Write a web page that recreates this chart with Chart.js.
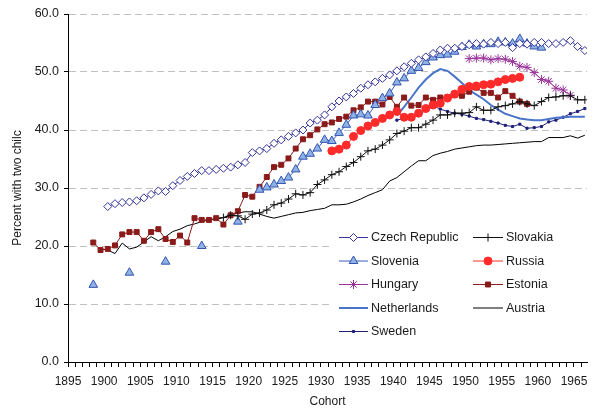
<!DOCTYPE html>
<html>
<head>
<meta charset="utf-8">
<script src="https://cdn.jsdelivr.net/npm/chart.js@4.4.1/dist/chart.umd.min.js"></script>
<style>
  html, body { margin: 0; padding: 0; background: #fff; overflow: hidden; }
  #wrap { width: 593px; height: 411px; }
</style>
</head>
<body>
<div id="wrap"><canvas id="cohortChart" width="593" height="411"></canvas></div>
<script>
// cohort data, one value per birth year (null = no estimate)
const czechStart = 1900;
const czech = [
  26.8, 27.3, 27.5, 27.6, 27.8, 28.3, 28.9, 29.5, 29.4, 30.4,
  31.3, 32.0, 32.5, 33.0, 33.0, 33.2, 33.4, 33.6, 34.0, 34.4,
  36.1, 36.4, 36.8, 37.7, 38.3, 38.9, 39.5, 40.0, 41.2, 41.7,
  42.6, 44.0, 45.0, 45.7, 46.3, 47.2, 47.8, 48.3, 48.9, 49.5,
  50.2, 50.9, 51.5, 52.1, 52.6, 53.2, 53.8, 54.1, 54.1, 54.4,
  54.7, 54.9, 54.8, 55.1, 54.9, 55.1, 54.2, 54.9, 54.8, 55.1,
  55.1, 54.9, 54.9, 55.1, 55.4, 54.4, 53.7
];

const slovakiaStart = 1916;
const slovakia = [
  24.9, 25.3, 25.2, 24.6, 25.5, 25.7, 26.2, 27.1, 27.4, 28.1,
  29.0, 28.8, 29.2, 30.6, 31.4, 32.3, 32.8, 33.7, 34.4, 35.4,
  36.4, 36.7, 37.4, 38.3, 39.4, 39.8, 40.4, 40.4, 41.0, 41.7,
  42.6, 42.6, 42.9, 42.9, 43.0, 44.0, 43.4, 43.4, 44.0, 44.2,
  44.5, 44.9, 44.5, 44.2, 44.9, 45.6, 45.7, 45.9, 45.9, 45.2,
  45.2
];

const sloveniaStart = 1898;
const slovenia = [
  13.3, null, null, null, null, 15.4, null, null, null, null,
  17.3, null, null, null, null, 20.0, null, null, null, null,
  24.2, null, null, 29.7, 30.1, 30.6, 31.2, 31.8, 33.2, 35.4,
  35.9, 36.8, 38.3, 38.1, 39.5, 40.9, 42.5, 42.7, 42.5, 44.3,
  45.5, 46.3, 48.2, 48.9, 50.2, 50.7, 51.7, 52.5, 52.9, 53.0,
  53.5, 54.3, 54.7, 54.4, 54.8, 54.8, 55.2, 55.1, 54.9, 55.7,
  54.9, 54.4, 54.2
];

const russiaStart = 1931;
const russia = [
  36.4, 36.7, 37.4, 38.9, 39.9, 40.7, 41.3, 42.0, 42.6, 43.2,
  42.2, 42.2, 42.9, 43.7, 44.3, 44.6, 45.5, 46.2, 47.0, 47.5,
  47.6, 47.8, 47.9, 48.3, 48.7, 48.9, 49.1
];

const hungaryStart = 1950;
const hungary = [
  52.3, 52.4, 52.4, 52.1, 52.3, 52.2, 51.8, 51.0, 50.8, 49.9,
  48.7, 48.4, 47.2, 46.9, 46.0
];

const estoniaStart = 1898;
const estonia = [
  20.6, 19.3, 19.5, 20.1, 22.0, 22.4, 22.4, 20.9, 22.4, 22.9,
  21.2, 20.7, 21.8, 20.6, 24.8, 24.5, 24.5, 24.8, 23.7, 25.3,
  26.0, 28.8, 28.5, 30.2, 31.9, 33.6, 34.0, 35.1, 36.8, 38.4,
  39.1, 40.1, 41.0, 41.3, 41.9, 42.3, 43.4, 43.9, 44.9, 44.9,
  44.4, 45.7, 44.0, 45.6, 44.2, 44.3, 45.6, 45.2, 45.6, 45.7,
  46.0, 45.9, 46.6, 47.3, 46.4, 46.4, 45.6, 46.7, 45.9, 44.9,
  44.5
];

const netherlandsStart = 1940;
const netherlands = [
  42.5, 44.0, 45.6, 47.3, 48.7, 49.8, 50.5, 50.2, 49.2, 48.1,
  46.9, 46.1, 45.3, 44.3, 43.5, 42.8, 42.4, 42.0, 41.8, 41.7,
  41.7, 41.9, 42.1, 42.2, 42.3, 42.3, 42.3
];

const austriaStart = 1899;
const austria = [
  19.5, 19.3, 18.7, 20.5, 19.5, 19.8, 20.7, 21.6, 20.9, 21.6,
  22.5, 22.9, 23.5, 23.8, 24.2, 24.5, 24.6, 24.9, 25.3, 25.7,
  25.9, 25.9, 25.5, 25.1, 24.8, 25.1, 25.4, 25.7, 25.8, 26.1,
  26.3, 26.5, 27.1, 27.1, 27.2, 27.6, 28.1, 28.7, 29.2, 29.7,
  31.2, 31.8, 32.8, 33.8, 34.7, 34.7, 35.6, 36.0, 36.3, 36.7,
  36.9, 37.1, 37.3, 37.4, 37.4, 37.5, 37.6, 37.7, 37.8, 37.9,
  38.0, 38.0, 38.7, 38.7, 38.7, 39.0, 38.6, 39.1
];

const swedenStart = 1940;
const sweden = [
  41.7, 42.0, 42.3, 42.6, 43.4, 44.2, 43.6, 43.2, 42.9, 42.7,
  42.4, 42.0, 41.8, 41.5, 41.2, 40.8, 40.6, 41.0, 40.3, 40.4,
  40.6, 41.4, 41.7, 42.2, 42.8, 43.2, 43.7
];

const yTicks = [0, 10, 20, 30, 40, 50, 60];

// cohorts are plotted in the middle of their year
function points(start, values) {
  return values.map((v, i) => ({ x: start + i + 0.5, y: v }));
}

const FONT = '"Liberation Sans", Arial, sans-serif';

function series(label, start, values, style) {
  return Object.assign({
    label: label,
    data: points(start, values),
    borderWidth: 1,
    pointBorderWidth: 1,
    spanGaps: false,
    tension: 0
  }, style);
}

const datasets = [
  series("Czech Republic", czechStart, czech, {
    borderColor: "#333399", pointStyle: "rectRot", pointRadius: 4,
    pointBackgroundColor: "#ffffff", pointBorderColor: "#333399"
  }),
  series("Slovakia", slovakiaStart, slovakia, {
    borderColor: "#111111", pointStyle: "cross", pointRadius: 4,
    pointBorderColor: "#111111"
  }),
  series("Slovenia", sloveniaStart, slovenia, {
    borderColor: "#3a5bbf", pointStyle: "triangle", pointRadius: 5,
    pointBackgroundColor: "#8fb2e6", pointBorderColor: "#3355b0"
  }),
  series("Russia", russiaStart, russia, {
    borderColor: "#ff2a2a", pointStyle: "circle", pointRadius: 4,
    pointBackgroundColor: "#ff2a2a", pointBorderColor: "#ff2a2a"
  }),
  series("Hungary", hungaryStart, hungary, {
    borderColor: "#993399", pointStyle: "star", pointRadius: 4.5,
    pointBorderColor: "#993399"
  }),
  series("Estonia", estoniaStart, estonia, {
    borderColor: "#8b1a1a", pointStyle: "rect", pointRadius: 3.5,
    pointBackgroundColor: "#8b1a1a", pointBorderColor: "#8b1a1a"
  }),
  series("Netherlands", netherlandsStart, netherlands, {
    borderColor: "#4a74c9", borderWidth: 2, pointRadius: 0
  }),
  series("Austria", austriaStart, austria, {
    borderColor: "#000000", pointRadius: 0
  }),
  series("Sweden", swedenStart, sweden, {
    borderColor: "#1f1f7a", pointStyle: "rect", pointRadius: 1.5,
    pointBackgroundColor: "#1f1f7a", pointBorderColor: "#1f1f7a"
  })
];

// legend drawn inside the plot, two columns, white box behind
const insideLegend = {
  id: "insideLegend",
  afterDraw(chart) {
    const ctx = chart.ctx;
    ctx.save();
    ctx.fillStyle = "#ffffff";
    ctx.fillRect(331, 223, 262, 122);
    ctx.font = "12.5px " + FONT;
    ctx.textBaseline = "middle";
    chart.data.datasets.forEach((ds, i) => {
      const col = i % 2;
      const row = Math.floor(i / 2);
      const x0 = col ? 473 : 339;
      const x1 = col ? 503 : 368;
      const y = 237.5 + row * 23.5;
      ctx.strokeStyle = ds.borderColor;
      ctx.lineWidth = ds.borderWidth;
      ctx.setLineDash([]);
      ctx.beginPath();
      ctx.moveTo(x0, y);
      ctx.lineTo(x1, y);
      ctx.stroke();
      if (ds.pointRadius > 0) {
        ctx.fillStyle = ds.pointBackgroundColor || ds.borderColor;
        ctx.strokeStyle = ds.pointBorderColor || ds.borderColor;
        ctx.lineWidth = 1;
        Chart.helpers.drawPoint(ctx, {
          pointStyle: ds.pointStyle,
          radius: ds.pointRadius,
          borderWidth: 1,
          rotation: 0
        }, (x0 + x1) / 2, y);
      }
      ctx.fillStyle = "#1a1a1a";
      ctx.fillText(ds.label, x1 + 3, y + 0.5);
    });
    ctx.restore();
  }
};

new Chart(document.getElementById("cohortChart"), {
  type: "line",
  data: { datasets: datasets },
  options: {
    responsive: false,
    animation: false,
    devicePixelRatio: 1,
    layout: { padding: { top: 14, right: 0, bottom: 0, left: 0 } },
    plugins: {
      legend: { display: false },
      tooltip: { enabled: false }
    },
    scales: {
      x: {
        type: "linear",
        min: 1895,
        max: 1966.8,
        afterFit(scale) { scale.height = 49; },
        border: { color: "#000000", width: 1 },
        grid: {
          drawOnChartArea: false,
          drawTicks: true,
          tickLength: 5,
          tickColor: "#000000"
        },
        ticks: {
          stepSize: 1,
          autoSkip: false,
          includeBounds: false,
          maxRotation: 0,
          padding: 7,
          color: "#1a1a1a",
          font: { family: FONT, size: 12 },
          callback: (v) => (Math.round(v) % 5 === 0 ? String(Math.round(v)) : "")
        },
        title: {
          display: true,
          text: "Cohort",
          color: "#1a1a1a",
          font: { family: FONT, size: 12 },
          padding: { top: 0, bottom: 2 }
        }
      },
      y: {
        min: yTicks[0],
        max: yTicks[yTicks.length - 1],
        afterFit(scale) { scale.width = 68; },
        afterBuildTicks(scale) { scale.ticks = yTicks.map((v) => ({ value: v })); },
        border: { color: "#000000", width: 1, dash: [7, 4] },
        grid: {
          color: "#c0c0c0",
          tickColor: "#000000",
          tickLength: 4
        },
        ticks: {
          padding: 5,
          color: "#1a1a1a",
          font: { family: FONT, size: 12.5 },
          callback: (v) => Number(v).toFixed(1)
        },
        title: {
          display: true,
          text: "Percent with two chilc",
          color: "#1a1a1a",
          font: { family: FONT, size: 12 },
          padding: { top: 10, bottom: 0 }
        }
      }
    }
  },
  plugins: [insideLegend]
});
</script>
</body>
</html>
